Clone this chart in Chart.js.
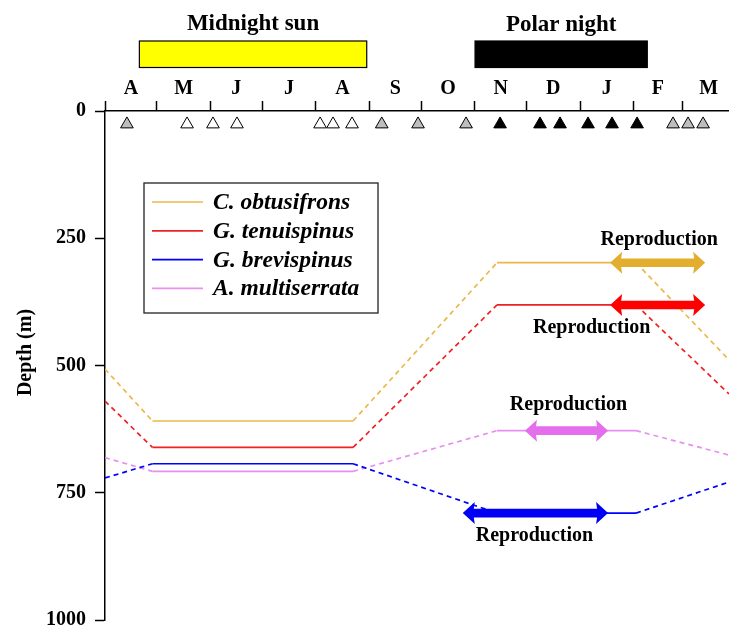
<!DOCTYPE html>
<html>
<head>
<meta charset="utf-8">
<script src="https://cdn.jsdelivr.net/npm/chart.js@4.4.1/dist/chart.umd.min.js"></script>
<style>
  html, body { margin: 0; padding: 0; background: #fff; }
</style>
</head>
<body>
<canvas id="c" width="729" height="626"></canvas>
<script>
// Time axis: days counted from 1 April
const monthStarts = [0, 30, 61, 91, 122, 153, 183, 214, 244, 275, 306, 334];
const monthLabels = ['A', 'M', 'J', 'J', 'A', 'S', 'O', 'N', 'D', 'J', 'F', 'M'];
const dayMax = 361.2;

// Depth axis (m)
const depthTicks = [0, 250, 500, 750, 1000];

// Light regime periods [start day, end day]
const midnightSun = [19.9, 151.5];
const polarNight = [214.2, 313.9];

// Seasonal vertical distribution (depth in m at each turning day)
const speciesNames = ['C. obtusifrons', 'G. tenuispinus', 'G. brevispinus', 'A. multiserrata'];
const seasonDays = [0, 27.5, 143.6, 226.9, 307.4, 361.2];
const obtusifronsDepth = [507, 609, 609, 298, 298, 489];
const tenuispinusDepth = [570, 661, 661, 381, 381, 556];
const brevispinusDepth = [721, 693, 693, 790, 790, 729];
const multiserrataDepth = [681, 708, 708, 628, 628, 676];

// Reproduction periods per species (days) and depth of the arrow
const reproStart = [292.4, 292.4, 207.1, 243.1];
const reproEnd = [347.4, 347.4, 291.2, 291.2];
const reproDepth = [298, 381, 790, 628];

// Sampling dates (days) and light condition: g = twilight, w = daylight, b = dark
const samplingDays = [12.7, 47.5, 62.5, 76.4, 124.5, 132, 143, 160.2, 181.2, 209,
                      228.7, 251.8, 263.4, 279.6, 293.5, 308, 328.8, 337.5, 346.2];
const samplingType = ['g', 'w', 'w', 'w', 'w', 'w', 'w', 'g', 'g', 'g',
                      'b', 'b', 'b', 'b', 'b', 'b', 'g', 'g', 'g'];

// ---- styling ----
const SERIF = '"Liberation Serif", "Times New Roman", serif';
const lineColors = ['#EAB84A', '#EE2222', '#0000FF', '#E890F0'];
const arrowColors = ['#E3AD2E', '#FF0000', '#0000F5', '#E46EEC'];
// label placement relative to the arrow centre [dx, baseline dy]
const labelOffsets = [[1.5, -18], [-66, 28], [-1, 28], [2, -21]];
const markerFill = { g: '#BEBEBE', w: '#FFFFFF', b: '#000000' };
const MARKER_DEPTH = 26;

Chart.defaults.font.family = SERIF;
Chart.defaults.color = '#000';

const monthCenters = monthStarts.map((s, i) => (s + (i + 1 < monthStarts.length ? monthStarts[i + 1] : 365)) / 2);
const centerLabel = new Map(monthCenters.map((c, i) => [c, monthLabels[i]]));
const boundarySet = new Set(monthStarts);
const xTickValues = monthStarts.concat(monthCenters).sort((a, b) => a - b);

const depthSeries = [obtusifronsDepth, tenuispinusDepth, brevispinusDepth, multiserrataDepth];

const speciesDatasets = depthSeries.map((depths, i) => ({
  type: 'line',
  label: speciesNames[i],
  data: seasonDays.map((d, j) => ({ x: d, y: depths[j] })),
  borderColor: lineColors[i],
  borderWidth: 1.7,
  pointRadius: 0,
  fill: false,
  tension: 0,
  segment: {
    borderDash: ctx => (ctx.p0.parsed.y !== ctx.p1.parsed.y ? [5, 4] : undefined)
  }
}));

const samplingDataset = {
  type: 'scatter',
  label: 'sampling',
  data: samplingDays.map(d => ({ x: d, y: MARKER_DEPTH })),
  pointStyle: 'triangle',
  pointRadius: 7.3,
  pointHoverRadius: 7.3,
  backgroundColor: samplingType.map(t => markerFill[t]),
  borderColor: '#000',
  borderWidth: 1
};

function drawArrow(ctx, x1, x2, y, color) {
  const hl = 12, hh = 11, sw = 4.3;
  ctx.save();
  ctx.fillStyle = color;
  ctx.beginPath();
  ctx.moveTo(x1, y);
  ctx.lineTo(x1 + hl, y - hh);
  ctx.lineTo(x1 + hl - 1, y - sw);
  ctx.lineTo(x2 - hl + 1, y - sw);
  ctx.lineTo(x2 - hl, y - hh);
  ctx.lineTo(x2, y);
  ctx.lineTo(x2 - hl, y + hh);
  ctx.lineTo(x2 - hl + 1, y + sw);
  ctx.lineTo(x1 + hl - 1, y + sw);
  ctx.lineTo(x1 + hl, y + hh);
  ctx.closePath();
  ctx.fill();
  ctx.restore();
}

const overlays = {
  id: 'overlays',
  afterDatasetsDraw(chart) {
    const { ctx, scales: { x, y } } = chart;
    // reproduction arrows and their labels
    for (let i = 0; i < speciesNames.length; i++) {
      const x1 = x.getPixelForValue(reproStart[i]);
      const x2 = x.getPixelForValue(reproEnd[i]);
      const py = y.getPixelForValue(reproDepth[i]);
      drawArrow(ctx, x1, x2, py, arrowColors[i]);
      ctx.save();
      ctx.font = 'bold 20px ' + SERIF;
      ctx.fillStyle = '#000';
      ctx.textAlign = 'center';
      ctx.textBaseline = 'alphabetic';
      ctx.fillText('Reproduction', (x1 + x2) / 2 + labelOffsets[i][0], py + labelOffsets[i][1]);
      ctx.restore();
    }
  },
  afterDraw(chart) {
    const { ctx, chartArea, scales: { x } } = chart;
    ctx.save();
    // light regime bars
    const periods = [
      { span: midnightSun, fill: '#FFFF00', text: 'Midnight sun', base: 30 },
      { span: polarNight, fill: '#000000', text: 'Polar night', base: 31 }
    ];
    periods.forEach(p => {
      const a = x.getPixelForValue(p.span[0]);
      const b = x.getPixelForValue(p.span[1]);
      ctx.fillStyle = p.fill;
      ctx.fillRect(a, 41, b - a, 26.5);
      ctx.strokeStyle = '#000';
      ctx.lineWidth = 1.2;
      ctx.strokeRect(a, 41, b - a, 26.5);
      ctx.fillStyle = '#000';
      ctx.font = 'bold 23px ' + SERIF;
      ctx.textAlign = 'center';
      ctx.textBaseline = 'alphabetic';
      ctx.fillText(p.text, (a + b) / 2, p.base);
    });

    // depth axis title
    ctx.save();
    ctx.translate(30.5, (chartArea.top + chartArea.bottom) / 2 - 13);
    ctx.rotate(-Math.PI / 2);
    ctx.font = 'bold 20px ' + SERIF;
    ctx.textAlign = 'center';
    ctx.textBaseline = 'alphabetic';
    ctx.fillText('Depth (m)', 0, 0);
    ctx.restore();

    // legend
    const bx = 144, by = 183, bw = 234, bh = 130;
    ctx.fillStyle = '#fff';
    ctx.fillRect(bx, by, bw, bh);
    ctx.strokeStyle = '#222';
    ctx.lineWidth = 1.3;
    ctx.strokeRect(bx, by, bw, bh);
    chart.data.datasets.forEach((ds, i) => {
      if (ds.type !== 'line') return;
      const ly = 202 + i * 28.8;
      ctx.strokeStyle = ds.borderColor;
      ctx.lineWidth = 1.7;
      ctx.beginPath();
      ctx.moveTo(152, ly);
      ctx.lineTo(203, ly);
      ctx.stroke();
      ctx.fillStyle = '#000';
      ctx.font = 'italic bold 23.5px ' + SERIF;
      ctx.textAlign = 'left';
      ctx.textBaseline = 'middle';
      ctx.fillText(ds.label, 213, ly + 1);
    });
    ctx.restore();
  }
};

new Chart(document.getElementById('c'), {
  data: { datasets: [...speciesDatasets, samplingDataset] },
  options: {
    responsive: false,
    animation: false,
    devicePixelRatio: 1,
    events: [],
    layout: { autoPadding: false, padding: { top: 77, bottom: 6, left: 0, right: 0 } },
    plugins: { legend: { display: false }, tooltip: { enabled: false } },
    scales: {
      x: {
        type: 'linear',
        position: 'top',
        min: 0,
        max: dayMax,
        afterBuildTicks: s => { s.ticks = xTickValues.map(v => ({ value: v })); },
        afterFit: s => { s.height = 34; s.paddingLeft = 0; s.paddingRight = 0; },
        ticks: {
          autoSkip: false,
          maxRotation: 0,
          padding: 0,
          color: '#000',
          font: { size: 20, weight: 'bold' },
          callback: v => centerLabel.get(v) || ''
        },
        grid: {
          drawOnChartArea: false,
          drawTicks: true,
          tickLength: 10,
          tickWidth: 1.5,
          tickColor: ctx => (ctx.tick && boundarySet.has(ctx.tick.value) ? '#000' : 'rgba(0,0,0,0)')
        },
        border: { display: true, color: '#000', width: 1.5 }
      },
      y: {
        type: 'linear',
        position: 'left',
        reverse: true,
        min: 0,
        max: 1000,
        afterBuildTicks: s => { s.ticks = depthTicks.map(v => ({ value: v })); },
        afterFit: s => { s.width = 105; s.paddingTop = 0; s.paddingBottom = 0; },
        ticks: {
          padding: 9,
          color: '#000',
          font: { size: 20, weight: 'bold' },
          callback: v => String(v)
        },
        grid: {
          drawOnChartArea: false,
          tickLength: 10,
          tickWidth: 1.5,
          tickColor: '#000'
        },
        border: { display: true, color: '#000', width: 1.5 }
      }
    }
  },
  plugins: [overlays]
});
</script>
</body>
</html>
